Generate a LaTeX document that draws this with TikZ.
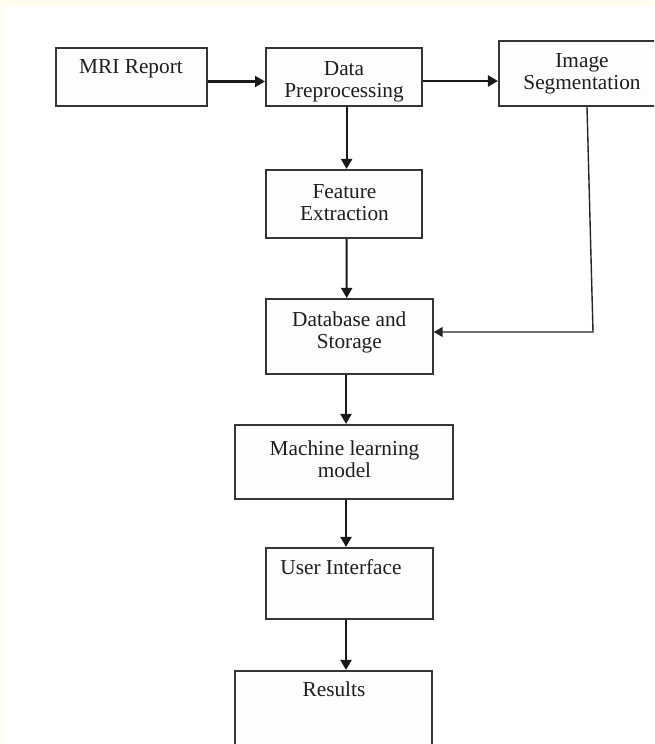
\documentclass[tikz,border=0pt]{standalone}
\usepackage{fontspec}
\setmainfont{Liberation Serif}
\usetikzlibrary{arrows.meta}
\definecolor{cream}{HTML}{FFFEEE}
\definecolor{boxline}{HTML}{353535}
\definecolor{boxfill}{HTML}{FDFDFD}
\definecolor{txt}{HTML}{1E1E1E}
\tikzset{
  box/.style={draw=boxline, fill=boxfill, line width=2.1pt, rectangle, inner sep=0pt},
  lbl/.style={font=\fontsize{21.3}{22}\selectfont, text=txt, align=center, inner sep=0pt},
  arr/.style={draw=black!90, line width=2.1pt, -{Triangle[length=10pt,width=11pt]}},
  thinarr/.style={draw=black!85, line width=1.4pt, -{Triangle[length=9pt,width=10pt]}}
}
\begin{document}
\begin{tikzpicture}[x=1pt,y=-1pt]
\clip (0,0) rectangle (654,744);
\fill[cream] (0,0) rectangle (654,744);
\fill[white] (5,6) rectangle (654,744);
% boxes
\node[box, minimum width=151pt, minimum height=58pt] (mri) at (131.2,77) {};
\node[box, minimum width=155.7pt, minimum height=58pt] (pre) at (343.9,77) {};
\node[box, minimum width=166pt, minimum height=65pt] (seg) at (582,73.5) {};
\node[box, minimum width=155.7pt, minimum height=68pt] (fea) at (343.9,204) {};
\node[box, minimum width=166.7pt, minimum height=75pt] (db) at (349.3,336.5) {};
\node[box, minimum width=218.3pt, minimum height=74pt] (ml) at (344.2,462) {};
\node[box, minimum width=166.7pt, minimum height=71pt] (ui) at (349.3,583.5) {};
\node[box, minimum width=197.3pt, minimum height=100pt] (res) at (333.7,721) {};
% texts
\node[lbl, anchor=base] (mrit) at (131,73.7) {MRI Report};
\node[lbl] (pret) at (344,81.5) {Data\\Preprocessing};
\node[lbl] (segt) at (582,74) {Image\\Segmentation};
\node[lbl] (feat) at (344.5,203) {Feature\\Extraction};
\node[lbl] (dbt) at (349.3,332.5) {Database and\\Storage};
\node[lbl] (mlt) at (344.5,459.5) {Machine learning\\model};
\node[lbl, anchor=base] (uit) at (341,574) {User Interface};
\node[lbl, anchor=base] (rest) at (334,696) {Results};
% connectors
\draw[arr] ([yshift=-4.5pt]mri.east) -- ([yshift=-4.5pt]pre.west);
\draw[arr] ([yshift=-4pt]pre.east) -- ([yshift=-7.5pt]seg.west);
\draw[arr] ([xshift=2.7pt]pre.south) -- ([xshift=2.7pt]fea.north);
\draw[arr] ([xshift=2.7pt]fea.south) -- ([xshift=-2.6pt]db.north);
\draw[arr] ([xshift=-3.3pt]db.south) -- ([xshift=1.8pt]ml.north);
\draw[arr] ([xshift=1.8pt]ml.south) -- ([xshift=-3.3pt]ui.north);
\draw[arr] ([xshift=-3.3pt]ui.south) -- ([xshift=12.3pt]res.north);
\coordinate (corner) at (593,332);
\draw[thinarr] ([xshift=5pt]seg.south) -- (corner) -- ([yshift=4.5pt]db.east);
\end{tikzpicture}
\end{document}
